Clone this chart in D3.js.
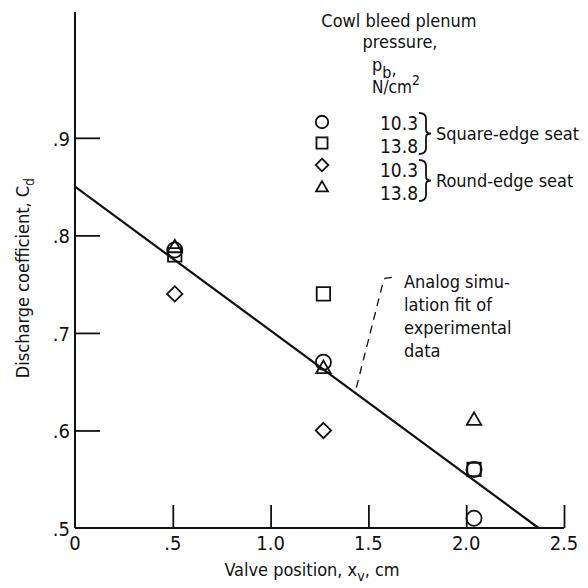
<!DOCTYPE html>
<html>
<head>
<meta charset="utf-8">
<script src="https://cdn.jsdelivr.net/npm/d3@7"></script>
<style>
  body { margin: 0; background: #fff; }
  text { font-family: "DejaVu Sans Condensed", "DejaVu Sans", sans-serif; font-stretch: condensed; fill: #111; }
</style>
</head>
<body>
<svg id="chart" width="588" height="588"></svg>
<script>
// values
var xTicks = [0, 0.5, 1.0, 1.5, 2.0, 2.5]
var xTickLabels = ["0", ".5", "1.0", "1.5", "2.0", "2.5"]
var yTicks = [0.5, 0.6, 0.7, 0.8, 0.9]
var yTickLabels = [".5", ".6", ".7", ".8", ".9"]

// [valve position cm, discharge coefficient]
var squareEdge103 = [[0.51, 0.785], [1.27, 0.67], [2.04, 0.56], [2.04, 0.51]]
var squareEdge138 = [[0.51, 0.78], [1.27, 0.74], [2.04, 0.56]]
var roundEdge103 = [[0.51, 0.74], [1.27, 0.60]]
var roundEdge138 = [[0.51, 0.787], [1.27, 0.663], [2.04, 0.61]]

var fitLine = [[0, 0.85], [2.37, 0.5]]
var leaderLine = [[1.62, 0.757], [1.585, 0.756], [1.575, 0.752], [1.431, 0.638]]

var legendPressures = ["10.3", "13.8", "10.3", "13.8"]
var legendGroups = ["Square-edge seat", "Round-edge seat"]
var noteLines = ["Analog simu-", "lation fit of", "experimental", "data"]

function draw() {
  var svg = d3.select("#chart")
  var mLeft = 75, mRight = 564, mTop = 12, mBottom = 528

  var x = d3.scaleLinear().domain([0, 2.5]).range([mLeft, mRight])
  var y = d3.scaleLinear().domain([0.5, 1.029]).range([mBottom, mTop])

  // axis lines
  svg.append("line").attr("x1", mLeft).attr("x2", mLeft).attr("y1", mTop).attr("y2", mBottom)
    .attr("stroke", "#111").attr("stroke-width", 2)
  svg.append("line").attr("x1", mLeft).attr("x2", mRight).attr("y1", mBottom).attr("y2", mBottom)
    .attr("stroke", "#111").attr("stroke-width", 2)

  // inward ticks
  var xAxis = d3.axisTop(x).tickValues(xTicks.slice(1)).tickSize(23).tickFormat("")
  svg.append("g").attr("transform", `translate(0,${mBottom})`).call(xAxis)
    .call(g => g.select(".domain").remove())
    .selectAll("line").attr("stroke", "#111").attr("stroke-width", 1.8)

  var yAxis = d3.axisRight(y).tickValues(yTicks.slice(1)).tickSize(25).tickFormat("")
  svg.append("g").attr("transform", `translate(${mLeft},0)`).call(yAxis)
    .call(g => g.select(".domain").remove())
    .selectAll("line").attr("stroke", "#111").attr("stroke-width", 1.8)

  svg.selectAll(".xlab").data(xTicks).enter().append("text")
    .attr("x", d => x(d)).attr("y", mBottom + 22)
    .attr("text-anchor", "middle").attr("font-size", 20)
    .text((d, i) => xTickLabels[i])

  svg.selectAll(".ylab").data(yTicks).enter().append("text")
    .attr("x", mLeft - 5).attr("y", d => y(d) + 8)
    .attr("text-anchor", "end").attr("font-size", 20)
    .text((d, i) => yTickLabels[i])

  // axis titles
  var xt = svg.append("text").attr("x", 312).attr("y", 576)
    .attr("text-anchor", "middle").attr("font-size", 18)
  xt.append("tspan").text("Valve position,  x")
  xt.append("tspan").attr("dy", 5).attr("font-size", 14).text("v")
  xt.append("tspan").attr("dy", -5).text(",  cm")

  var yt = svg.append("text").attr("transform", "translate(29,278) rotate(-90)")
    .attr("text-anchor", "middle").attr("font-size", 18)
  yt.append("tspan").text("Discharge coefficient,  C")
  yt.append("tspan").attr("dy", 5).attr("font-size", 14).text("d")

  // fit line and leader
  var line = d3.line().x(d => x(d[0])).y(d => y(d[1]))
  svg.append("path").datum(fitLine).attr("d", line)
    .attr("fill", "none").attr("stroke", "#111").attr("stroke-width", 2.2)

  svg.append("path").datum(leaderLine).attr("d", line)
    .attr("fill", "none").attr("stroke", "#111").attr("stroke-width", 1.3)
    .attr("stroke-dasharray", "8,6")

  // markers
  var types = {
    circle: [d3.symbolCircle, 180],
    square: [d3.symbolSquare, 180],
    diamond: [d3.symbolDiamond2, 150],
    triangle: [d3.symbolTriangle2, 150]
  }
  function marker(kind, scale) {
    return d3.symbol().type(types[kind][0]).size(types[kind][1] * scale)()
  }
  function drawMarks(data, kind) {
    svg.append("g").selectAll("path").data(data).enter().append("path")
      .attr("transform", d => `translate(${x(d[0])},${y(d[1])})`)
      .attr("d", marker(kind, 1))
      .attr("fill", "none").attr("stroke", "#111").attr("stroke-width", 1.8)
  }
  drawMarks(squareEdge138, "square")
  drawMarks(squareEdge103, "circle")
  drawMarks(roundEdge103, "diamond")
  drawMarks(roundEdge138, "triangle")

  // legend
  var lt = svg.append("g").attr("font-size", 18)
  lt.append("text").attr("x", 399).attr("y", 27).attr("text-anchor", "middle").text("Cowl bleed plenum")
  lt.append("text").attr("x", 400).attr("y", 48).attr("text-anchor", "middle").text("pressure,")
  var pb = lt.append("text").attr("x", 372).attr("y", 71)
  pb.append("tspan").text("p")
  pb.append("tspan").attr("dy", 7).attr("font-size", 16).text("b")
  pb.append("tspan").attr("dy", -3).text(",")
  var nc = lt.append("text").attr("x", 372).attr("y", 93).attr("font-size", 17)
  nc.append("tspan").text("N/cm")
  nc.append("tspan").attr("dy", -8).attr("font-size", 14).text("2")

  var kinds = ["circle", "square", "diamond", "triangle"]
  var markY = [122, 143, 165, 188]
  var numY = [123, 146, 170, 193]
  kinds.forEach((k, i) => {
    svg.append("path").attr("transform", `translate(322,${markY[i]})`)
      .attr("d", marker(k, 0.68))
      .attr("fill", "none").attr("stroke", "#111").attr("stroke-width", 1.8)
    lt.append("text").attr("x", 418).attr("y", numY[i] + 7).attr("font-size", 19)
      .attr("text-anchor", "end").text(legendPressures[i])
  })
  legendGroups.forEach((g, i) => {
    var y0 = numY[i * 2] - 10, y1 = numY[i * 2 + 1] + 8, ym = (y0 + y1) / 2
    svg.append("path")
      .attr("d", `M419,${y0} Q426,${y0} 426,${y0 + 6} L426,${ym - 4} Q426,${ym} 431,${ym} Q426,${ym} 426,${ym + 4} L426,${y1 - 6} Q426,${y1} 419,${y1}`)
      .attr("fill", "none").attr("stroke", "#111").attr("stroke-width", 1.8)
    lt.append("text").attr("x", 436).attr("y", ym + 6).text(g)
  })

  // annotation
  var note = svg.append("g").attr("font-size", 18)
  noteLines.forEach((t, i) => {
    note.append("text").attr("x", 404).attr("y", 288 + i * 23).text(t)
  })
}
draw()
</script>
</body>
</html>
